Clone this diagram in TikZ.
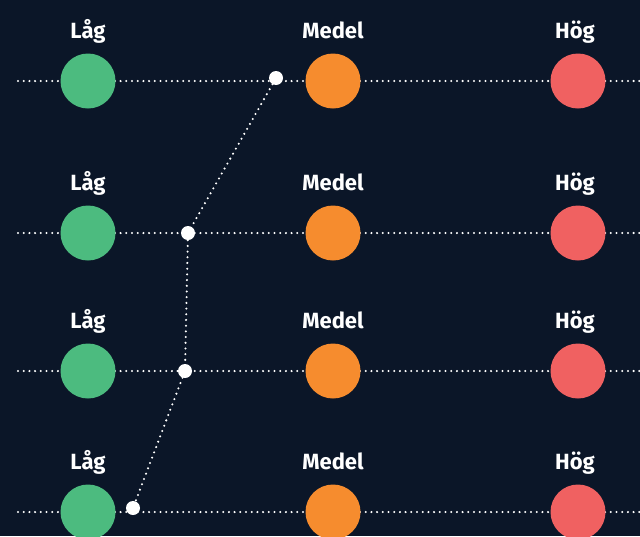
\documentclass[tikz,border=0pt]{standalone}
\usepackage{fontspec}
\setmainfont{Fira Sans}

\definecolor{bgnavy}{HTML}{0B1628}
\definecolor{lowgreen}{HTML}{4CBB7F}
\definecolor{midorange}{HTML}{F68C2E}
\definecolor{highred}{HTML}{F06161}

\tikzset{
  level/.style={circle,minimum size=55pt,inner sep=0pt},
  marker/.style={circle,fill=white,minimum size=14pt,inner sep=0pt},
  dots/.style={white,line width=2.3pt,line cap=round,dash pattern=on 0pt off 5.7pt},
  heading/.style={text=white,anchor=base,font=\bfseries\fontsize{22}{22}\selectfont}
}

\begin{document}
\begin{tikzpicture}[x=1pt,y=-1pt]
    \fill[bgnavy] (0,0) rectangle (640,536);
    \useasboundingbox (0,0) rectangle (640,536);

    % one row per setting
    \foreach \y [count=\i] in {81,233,371,512} {
      \coordinate (left\i) at (18,\y);
      \coordinate (right\i) at (640,\y);
      \draw[dots] (left\i) -- (right\i);

      \node[level,fill=lowgreen] (low\i) at (88,\y) {};
      \node[level,fill=midorange] (mid\i) at (333,\y) {};
      \node[level,fill=highred] (high\i) at (578,\y) {};

      \node[heading] (lowtext\i) at (88,\y-43) {Låg};
      \node[heading] (midtext\i) at (333,\y-43) {Medel};
      \node[heading] (hightext\i) at (575,\y-43) {Hög};
    }

    \node[marker] (pick1) at (276,78) {};
    \node[marker] (pick2) at (188,233) {};
    \node[marker] (pick3) at (185,371) {};
    \node[marker] (pick4) at (133,508) {};

    \draw[dots] (pick1) -- (pick2) -- (pick3) -- (pick4);
  \end{tikzpicture}
\end{document}
